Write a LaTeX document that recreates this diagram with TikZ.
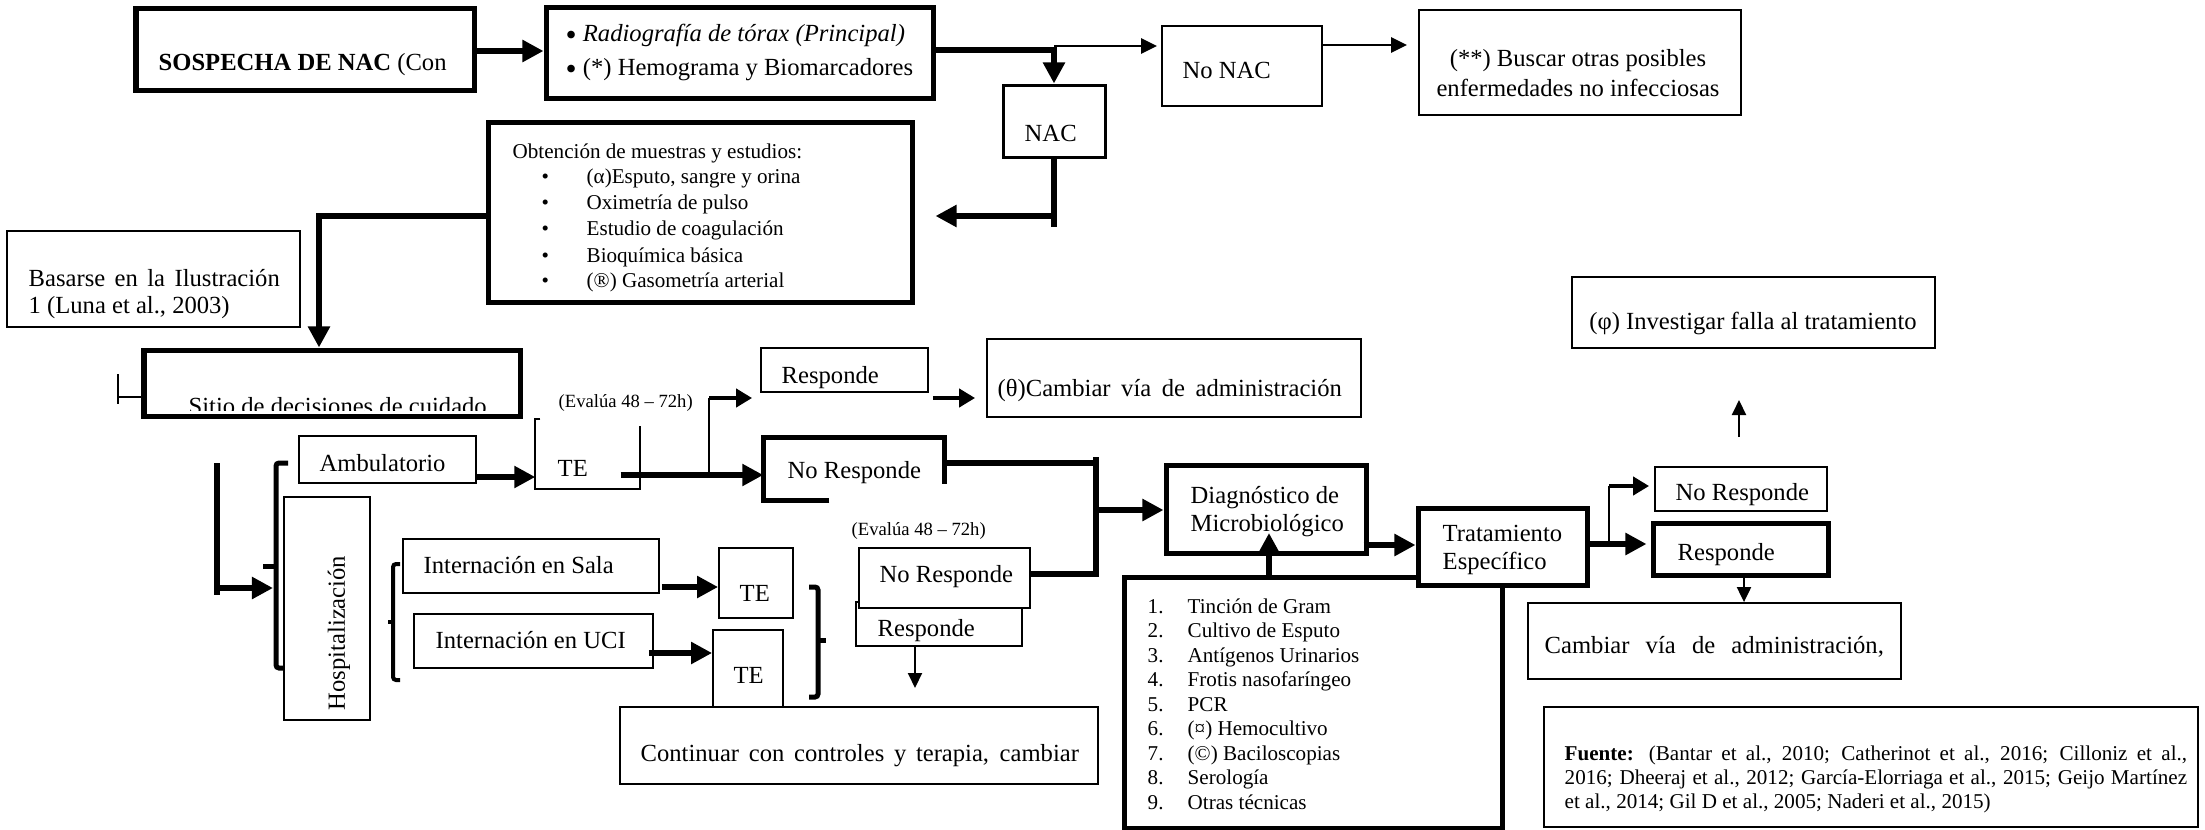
\documentclass[tikz,border=0pt]{standalone}
\usepackage{fontspec}
\setmainfont{Liberation Serif}
\usetikzlibrary{arrows.meta,fit}
\newcommand{\bigbul}{\raisebox{-1.3pt}{\fontsize{9}{9}\selectfont •}}
\tikzset{
  boxthin/.style={draw, line width=0.18mm, fill=white, inner sep=0pt},
  boxmed/.style={draw, line width=0.3mm, fill=white, inner sep=0pt},
  boxthick/.style={draw, line width=0.5mm, fill=white, inner sep=0pt},
  shell/.style={inner sep=0pt},
  txt/.style={inner sep=0pt, font=\fontsize{7}{8.5}\selectfont},
  txtsm/.style={inner sep=0pt, font=\fontsize{6}{7.2}\selectfont},
  txtxs/.style={inner sep=0pt, font=\fontsize{5.3}{6.4}\selectfont},
  thinline/.style={line width=0.18mm},
  bigline/.style={line width=0.55mm},
  bigarrow/.style={line width=0.55mm, -{Triangle[length=2.1mm,width=2.1mm]}},
  midarrow/.style={line width=0.45mm, -{Triangle[length=1.6mm,width=1.8mm]}},
  toparrow/.style={line width=0.28mm, -{Triangle[length=1.6mm,width=1.5mm]}},
  thinarrow/.style={line width=0.2mm, -{Triangle[length=1.5mm,width=1.4mm]}},
  bracestyle/.style={line width=0.5mm, rounded corners=0.3mm},
  bracethin/.style={line width=0.4mm, rounded corners=0.3mm},
}
\begin{document}
\begin{tikzpicture}[x=0.01cm,y=-0.01cm]
\useasboundingbox (0,0) rectangle (2205,830);
\fill[white] (0,0) rectangle (2205,830);

% ---------- top row ----------
\node[boxthick, fit={(136,8)(474,90)}] (sosp) {};
\node[txt, anchor=mid west] (sospT) at (158,62) {\textbf{SOSPECHA DE NAC} (Con};

\node[boxthick, fit={(546,7)(933,98)}] (radio) {};
\node[txt, anchor=mid west] (radioA) at (565,33) {\bigbul\ \textit{Radiografía de tórax (Principal)}};
\node[txt, anchor=mid west] (radioB) at (565,67) {\bigbul\ (*) Hemograma y Biomarcadores};

\node[boxmed, fit={(1003,85)(1105,157)}] (nac) {};
\node[txt, anchor=mid west] (nacT) at (1024,133) {NAC};

\node[boxthin, fit={(1162,26)(1322,106)}] (nonac) {};
\node[txt, anchor=mid west] (nonacT) at (1182,70) {No NAC};

\node[boxthin, fit={(1419,10)(1741,115)}] (buscar) {};
\node[txt, align=center] (buscarT) at (1578,73) {(**) Buscar otras posibles\\enfermedades no infecciosas};

\draw[bigarrow] (sosp.east |- 0,51) -- (radio.west |- 0,51);
\draw[bigarrow] (radio.east |- 0,50) -| (nac.north);
\coordinate (j1) at (1054,46);
\draw[toparrow] (j1) -- ([xshift=-0.4mm]nonac.west |- j1);
\draw[toparrow] (nonac.east |- 0,45) -- ([xshift=-1.1mm]buscar.west |- 0,45);

% ---------- obtencion ----------
\node[boxthick, fit={(488,122)(912,302)}] (obt) {};
\node[txtsm, anchor=mid west] (obtH) at (512,150) {Obtención de muestras y estudios:};
\node[txtsm, anchor=mid west] (ob1) at (541,175) {•};
\node[txtsm, anchor=mid west] (ob2) at (541,201) {•};
\node[txtsm, anchor=mid west] (ob3) at (541,227) {•};
\node[txtsm, anchor=mid west] (ob4) at (541,254) {•};
\node[txtsm, anchor=mid west] (ob5) at (541,279) {•};
\node[txtsm, anchor=mid west] (oi1) at (586,175) {(α)Esputo, sangre y orina};
\node[txtsm, anchor=mid west] (oi2) at (586,201) {Oximetría de pulso};
\node[txtsm, anchor=mid west] (oi3) at (586,227) {Estudio de coagulación};
\node[txtsm, anchor=mid west] (oi4) at (586,254) {Bioquímica básica};
\node[txtsm, anchor=mid west] (oi5) at (586,279) {(®) Gasometría arterial};

\coordinate (nacdrop) at (1054,227);
\coordinate (nacturn) at (1054,216);
\draw[bigline] (nac.south) -- (nacdrop);
\draw[bigarrow] (nacturn) -- ([xshift=2.1mm]obt.east |- nacturn);

% ---------- basarse / sitio ----------
\node[boxthin, fit={(7,231)(300,327)}] (basarse) {};
\node[txt, anchor=mid west] (basA) at (28,278) {\makebox[2.51cm][s]{Basarse en la Ilustración}};
\node[txt, anchor=mid west] (basB) at (28,305) {1 (Luna et al., 2003)};

\node[boxthick, fit={(144,350)(520,416)}] (sitio) {};
\begin{scope}
\clip (144,350) rectangle (520,410);
\node[txt, anchor=base west] (sitioT) at (188,414) {Sitio de decisiones de cuidado};
\end{scope}
\draw[bigarrow] (obt.west |- 0,216) -| (sitio.north -| 319,0);

\coordinate (stubtop) at (118,374);
\coordinate (stubbot) at (118,404);
\draw[thinline] (stubtop) -- (stubbot);
\draw[thinline] (stubtop |- 0,397) -- (sitio.west |- 0,397);

% ---------- ambulatorio row ----------
\node[boxthin, fit={(299,436)(476,483)}] (amb) {};
\node[txt, anchor=mid west] (ambT) at (319,463) {Ambulatorio};

\node[shell, fit={(536,420)(639,488)}] (te1) {};
\draw[thinline] ([xshift=0.5mm]te1.north west) -- (te1.north west) -- (te1.south west) -- (te1.south east) -- ([yshift=-0.7mm]te1.north east);
\node[txt, anchor=mid west] (te1T) at (557,468) {TE};

\node[txtxs, anchor=mid west] (eval1) at (558,399) {(Evalúa 48 – 72h)};

\node[boxthin, fit={(761,348)(928,392)}] (resp1) {};
\node[txt, anchor=mid west] (resp1T) at (781,375) {Responde};

\node[boxthin, fit={(987,339)(1361,417)}] (camb1) {};
\node[txt, anchor=mid west] (camb1T) at (997,388) {\makebox[3.44cm][s]{(θ)Cambiar vía de administración}};

\node[shell, fit={(764,438)(944,500)}] (nr1) {};
\draw[line width=0.5mm] ([xshift=6.6mm]nr1.south west) -- (nr1.south west) -- (nr1.north west) -- (nr1.north east) -- ([yshift=1.7mm]nr1.south east);
\node[txt, anchor=mid west] (nr1T) at (787,470) {No Responde};

\draw[bigarrow] (amb.east |- 0,477) -- (te1.west |- 0,477);
\draw[bigarrow] ([xshift=-1.9mm]te1.east |- 0,475) -- (nr1.west |- 0,475);
\coordinate (br1) at (709,474);
\coordinate (br2) at (709,398);
\draw[thinline] (br1) -- (br2);
\draw[midarrow] (br2) -- ([xshift=-0.8mm]resp1.west |- br2);
\draw[midarrow] ([xshift=0.4mm]resp1.east |- 0,398) -- ([xshift=-1.1mm]camb1.west |- 0,398);

% ---------- left brackets ----------
\coordinate (ltop) at (217,463);
\coordinate (lbot) at (217,595);
\coordinate (lin) at (273,588);
\draw[bigline] (ltop) -- (lbot);
\draw[bigarrow] (ltop |- lin) -- (lin);
\draw[bracestyle] (288,463) -- (276,463) -- (276,668) -- (288,668);
\draw[bracestyle] (276,566) -- (263,566);

\node[boxthin, fit={(284,497)(370,720)}] (hosp) {};
\node[txt, rotate=90] (hospT) at (339,633) {Hospitalización};

\draw[bracethin] (400,564) -- (393,564) -- (393,680) -- (400,680);
\draw[bracethin] (393,622) -- (388,622);

\node[boxthin, fit={(403,539)(659,593)}] (sala) {};
\node[txt, anchor=mid west] (salaT) at (423,565) {Internación en Sala};
\node[boxthin, fit={(414,614)(653,668)}] (uci) {};
\node[txt, anchor=mid west] (uciT) at (435,640) {Internación en UCI};

\node[boxthin, fit={(719,548)(793,618)}] (te2) {};
\node[txt, anchor=mid west] (te2T) at (739,593) {TE};
\node[boxthin, fit={(713,630)(783,707)}] (te3) {};
\node[txt, anchor=mid west] (te3T) at (733,675) {TE};

\draw[bigarrow] ([xshift=0.2mm]sala.east |- 0,587) -- (te2.west |- 0,587);
\draw[bigarrow] ([xshift=-0.5mm]uci.east |- 0,653) -- (te3.west |- 0,653);

\draw[bracestyle] (809,587) -- (818,587) -- (818,697) -- (809,697);
\draw[bracestyle] (818,640) -- (826,640);

\node[txtxs, anchor=mid west] (eval2) at (851,527) {(Evalúa 48 – 72h)};

\node[boxthin, fit={(856,602)(1022,646)}] (resp2) {};
\node[txt, anchor=mid west] (resp2T) at (877,628) {Responde};
\node[boxthin, fit={(859,548)(1030,608)}] (nr2) {};
\node[txt, anchor=mid west] (nr2T) at (879,574) {No Responde};

\coordinate (resp2tip) at (915,688);
\draw[thinarrow] (resp2.south -| resp2tip) -- (resp2tip);

\node[boxthin, fit={(620,707)(1098,784)}] (cont) {};
\node[txt, anchor=mid west] (contT) at (640,753) {\makebox[4.38cm][s]{Continuar con controles y terapia, cambiar}};

% ---------- merge to diagnostico ----------
\coordinate (mtop) at (1096,457);
\coordinate (mbot) at (1096,577);
\draw[bigline] (nr1.east |- 0,463) -- (mtop |- 0,463);
\draw[bigline] (mtop) -- (mbot);
\draw[bigline] (nr2.east |- 0,574) -- (mtop |- 0,574);

\node[boxthick, fit={(1166,465)(1366,553)}] (diag) {};
\node[txt, anchor=mid west] (diagA) at (1190,495) {Diagnóstico de};
\node[txt, anchor=mid west] (diagB) at (1190,523) {Microbiológico};
\draw[bigarrow] (mtop |- 0,510) -- (diag.west |- 0,510);

% ---------- list ----------
\node[boxthick, fit={(1124,577)(1502,828)}] (lista) {};
\node[txtsm, anchor=mid west] (n1) at (1147,605) {1.};
\node[txtsm, anchor=mid west] (n2) at (1147,629.5) {2.};
\node[txtsm, anchor=mid west] (n3) at (1147,654) {3.};
\node[txtsm, anchor=mid west] (n4) at (1147,678.5) {4.};
\node[txtsm, anchor=mid west] (n5) at (1147,703) {5.};
\node[txtsm, anchor=mid west] (n6) at (1147,727.5) {6.};
\node[txtsm, anchor=mid west] (n7) at (1147,752) {7.};
\node[txtsm, anchor=mid west] (n8) at (1147,776.5) {8.};
\node[txtsm, anchor=mid west] (n9) at (1147,801) {9.};
\node[txtsm, anchor=mid west] (l1) at (1187,605) {Tinción de Gram};
\node[txtsm, anchor=mid west] (l2) at (1187,629.5) {Cultivo de Esputo};
\node[txtsm, anchor=mid west] (l3) at (1187,654) {Antígenos Urinarios};
\node[txtsm, anchor=mid west] (l4) at (1187,678.5) {Frotis nasofaríngeo};
\node[txtsm, anchor=mid west] (l5) at (1187,703) {PCR};
\node[txtsm, anchor=mid west] (l6) at (1187,727.5) {(¤) Hemocultivo};
\node[txtsm, anchor=mid west] (l7) at (1187,752) {(©) Baciloscopias};
\node[txtsm, anchor=mid west] (l8) at (1187,776.5) {Serología};
\node[txtsm, anchor=mid west] (l9) at (1187,801) {Otras técnicas};

\draw[bigarrow] (lista.north -| 1269,0) -- (1269,533);

% ---------- tratamiento ----------
\node[boxthick, fit={(1418,508)(1587,585)}] (trat) {};
\node[txt, anchor=mid west] (tratA) at (1442,533) {Tratamiento};
\node[txt, anchor=mid west] (tratB) at (1442,561) {Específico};
\draw[bigarrow] ([xshift=-0.5mm]diag.east |- 0,545) -- (trat.west |- 0,545);

\node[boxthin, fit={(1655,467)(1827,511)}] (nr3) {};
\node[txt, anchor=mid west] (nr3T) at (1675,492) {No Responde};
\node[boxthick, fit={(1653,523)(1828,575)}] (resp3) {};
\node[txt, anchor=mid west] (resp3T) at (1677,552) {Responde};

\draw[bigarrow] (trat.east |- 0,544) -- ([xshift=-0.4mm]resp3.west |- 0,544);
\coordinate (br3) at (1609,544);
\coordinate (br4) at (1609,486);
\draw[thinline] (br3) -- (br4);
\draw[midarrow] (br4) -- ([xshift=-0.5mm]nr3.west |- br4);

\node[boxthin, fit={(1528,603)(1901,679)}] (camb2) {};
\node[txt, anchor=mid west] (camb2T) at (1544,645) {\makebox[3.39cm][s]{Cambiar vía de administración,}};
\draw[thinarrow] (resp3.south -| 1744,0) -- (camb2.north -| 1744,0);

\node[boxthin, fit={(1572,277)(1935,348)}] (invest) {};
\node[txt] (investT) at (1753,323) {(φ) Investigar falla al tratamiento};
\coordinate (upbot) at (1739,437);
\coordinate (uptop) at (1739,400);
\draw[thinarrow] (upbot) -- (uptop);

% ---------- fuente ----------
\node[boxthin, fit={(1544,707)(2198,827)}] (fuente) {};
\node[txtsm, anchor=mid west] (fA) at (1564,752) {\makebox[6.22cm][s]{\textbf{Fuente:} (Bantar et al., 2010; Catherinot et al., 2016; Cilloniz et al.,}};
\node[txtsm, anchor=mid west] (fB) at (1564,776) {\makebox[6.22cm][s]{2016; Dheeraj et al., 2012; García-Elorriaga et al., 2015; Geijo Martínez}};
\node[txtsm, anchor=mid west] (fC) at (1564,800) {et al., 2014; Gil D et al., 2005; Naderi et al., 2015)};
\end{tikzpicture}
\end{document}
